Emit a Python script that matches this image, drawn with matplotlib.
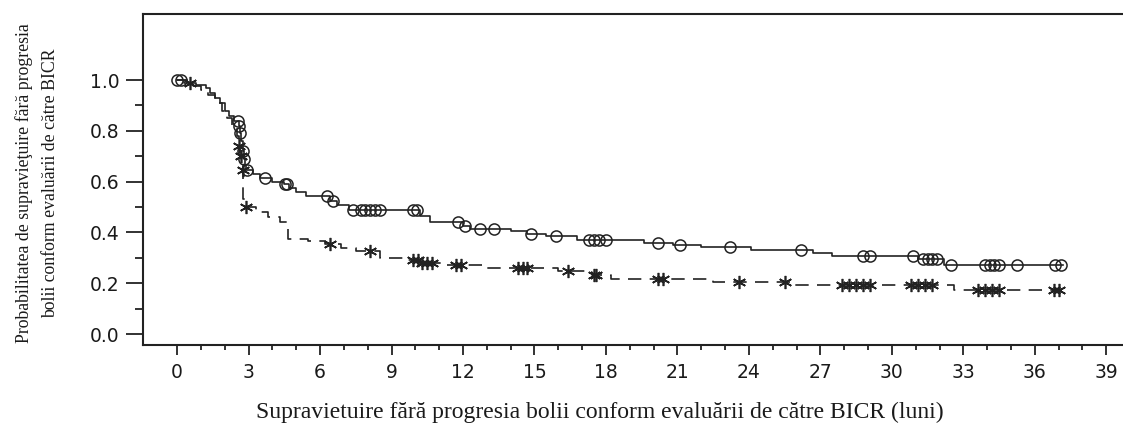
import numpy as np
import matplotlib
matplotlib.use("Agg")
import matplotlib.pyplot as plt
from matplotlib.ticker import FixedLocator

# Kaplan-Meier curves (time in months, survival after each drop)
upper_event_t = [0.4, 0.8, 1.2, 1.4, 1.6, 1.8, 2.0, 2.2, 2.4, 2.6, 2.65, 2.7, 2.75, 2.8, 2.85,
                 2.9, 3.2, 3.5, 4.0, 4.5, 4.7, 5.0, 5.4, 6.4, 6.7, 7.2, 10.2, 10.6, 12.0, 12.3,
                 14.0, 14.7, 15.5, 16.8, 19.6, 20.8, 22.0, 24.1, 26.7, 27.5, 31.1, 32.2]
upper_event_s = [0.99, 0.98, 0.97, 0.95, 0.93, 0.91, 0.88, 0.86, 0.84, 0.82, 0.79, 0.76, 0.72, 0.69, 0.665,
                 0.645, 0.63, 0.615, 0.60, 0.59, 0.575, 0.56, 0.545, 0.525, 0.51, 0.49, 0.465, 0.44, 0.425, 0.415,
                 0.405, 0.395, 0.385, 0.372, 0.36, 0.35, 0.342, 0.33, 0.32, 0.307, 0.295, 0.27]
upper_end = 37.2
upper_censor = [0.0, 0.15, 2.55, 2.6, 2.65, 2.75, 2.8, 2.95, 3.7, 4.55, 4.6, 6.3, 6.55, 7.4, 7.7,
                7.9, 8.1, 8.3, 8.5, 9.9, 10.05, 11.8, 12.1, 12.7, 13.3, 14.85, 15.9, 17.3, 17.5,
                17.7, 18.0, 20.2, 21.1, 23.2, 26.2, 28.8, 29.1, 30.9, 31.3, 31.5, 31.7, 31.9,
                32.5, 33.9, 34.1, 34.3, 34.5, 35.25, 36.85, 37.1]

lower_event_t = [0.3, 0.6, 1.0, 1.3, 1.6, 1.9, 2.1, 2.3, 2.5, 2.6, 2.65, 2.7, 2.75, 2.78, 2.85,
                 3.3, 3.8, 4.3, 4.65, 5.5, 6.2, 6.9, 7.5, 8.5, 9.6, 10.2, 11.2, 13.0, 16.0,
                 17.4, 18.2, 22.5, 25.9, 32.6]
lower_event_s = [0.99, 0.975, 0.96, 0.94, 0.91, 0.88, 0.85, 0.82, 0.78, 0.74, 0.70, 0.67, 0.645, 0.53, 0.50,
                 0.48, 0.46, 0.44, 0.375, 0.365, 0.355, 0.34, 0.327, 0.30, 0.29, 0.28, 0.27, 0.26, 0.248,
                 0.232, 0.215, 0.205, 0.195, 0.172]
lower_end = 37.0
lower_censor = [0.55, 2.6, 2.68, 2.75, 2.9, 6.4, 8.1, 9.9, 10.1, 10.3, 10.5, 10.7, 11.7, 11.9,
                14.3, 14.5, 14.7, 16.4, 17.5, 17.6, 20.2, 20.4, 23.6, 25.5, 27.9, 28.2, 28.5,
                28.8, 29.1, 30.8, 31.1, 31.4, 31.7, 33.6, 33.9, 34.2, 34.5, 36.8, 37.0]

x_ticks = list(range(0, 40, 3))
y_ticks = [0.0, 0.2, 0.4, 0.6, 0.8, 1.0]
y_tick_labels = ["0.0", "0.2", "0.4", "0.6", "0.8", "1.0"]

X_LABEL = "Supravietuire fără progresia bolii conform evaluării de către BICR (luni)"
Y_LABEL = "Probabilitatea de supravieţuire fără progresia\nbolii conform evaluării de către BICR"

INK = "#222222"


def km_steps(event_t, event_s, end):
    t = np.concatenate([[0.0], event_t, [end]])
    s = np.concatenate([[1.0], event_s, [event_s[-1]]])
    return t, s


def surv_at(t, s, x):
    idx = np.searchsorted(t, x, side="right") - 1
    return s[np.clip(idx, 0, len(s) - 1)]


fig = plt.figure(figsize=(11.23, 4.25), dpi=100)
ax = fig.add_axes([143 / 1123, 80 / 425, 1 - 143 / 1123, 331 / 425])

tu, su = km_steps(upper_event_t, upper_event_s, upper_end)
tl, sl = km_steps(lower_event_t, lower_event_s, lower_end)

ax.step(tu, su, where="post", color=INK, lw=1.2)
ax.step(tl, sl, where="post", color=INK, lw=1.2, dashes=(8, 5))

ax.plot(upper_censor, surv_at(tu, su, np.array(upper_censor)), ls="none", marker="o",
        ms=8, mfc="none", mec=INK, mew=1.1)
ax.plot(lower_censor, surv_at(tl, sl, np.array(lower_censor)), ls="none", marker=(6, 2, 0),
        ms=9.5, mec=INK, mew=1.2)

ax.set_xlim(-1.43, 39.7)
ax.set_ylim(-0.043, 1.26)

ax.xaxis.set_major_locator(FixedLocator(x_ticks))
ax.xaxis.set_minor_locator(FixedLocator([m for m in range(0, 40) if m % 3 != 0]))
ax.yaxis.set_major_locator(FixedLocator(y_ticks))
ax.yaxis.set_minor_locator(FixedLocator([0.1, 0.3, 0.5, 0.7, 0.9]))
ax.set_yticklabels(y_tick_labels)

ax.tick_params(axis="both", which="both", direction="out", colors=INK, width=1.3,
               labelsize=13.5, labelcolor="#1a1a1a")
ax.tick_params(axis="x", which="major", length=7, pad=6)
ax.tick_params(axis="x", which="minor", length=3.5)
ax.tick_params(axis="y", which="major", length=12, pad=5)
ax.tick_params(axis="y", which="minor", length=6)
for lab in ax.get_xticklabels() + ax.get_yticklabels():
    lab.set_family("DejaVu Sans")

ax.spines["right"].set_visible(False)
for side in ("left", "bottom", "top"):
    ax.spines[side].set_color(INK)
    ax.spines[side].set_linewidth(1.5)

fig.text(600 / 1123, 1 - 418 / 425, X_LABEL, ha="center", va="baseline",
         family="Liberation Serif", fontsize=17, color="#1a1a1a")
fig.text(37 / 1123, 1 - 183 / 425, Y_LABEL, ha="center", va="center", rotation=90,
         family="Liberation Serif", fontsize=12.8, color="#1a1a1a", linespacing=1.65,
         multialignment="center")

fig.savefig("out.png", dpi=100)
